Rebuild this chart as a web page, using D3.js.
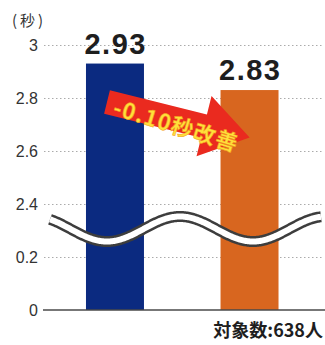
<!DOCTYPE html>
<html>
<head>
<meta charset="utf-8">
<script src="https://cdn.jsdelivr.net/npm/d3@7/dist/d3.min.js"></script>
<style>
  html, body { margin: 0; padding: 0; background: #fff; }
  svg { display: block; }
</style>
</head>
<body>
<svg id="chart" width="325" height="345"></svg>
<script>
// Reaction time before / after, seconds
const categories = ["改善前", "改善後"];
const values = [2.93, 2.83];
const barColors = ["#0b2a80", "#d8661f"];
const valueLabels = ["2.93", "2.83"];

// Broken y axis: 0–0.2 below the break, 2.4–3 above it
const yBreakDomain = [0, 0.2, 2.4, 3];
const tickValues = [0, 0.2, 2.4, 2.6, 2.8, 3];
const tickLabels = ["0", "0.2", "2.4", "2.6", "2.8", "3"];

const unitLabel = "(秒)";
const changeLabel = "-0.10秒改善";
const sampleLabel = "対象数:638人";

const svg = d3.select("#chart");
const latin = "'Liberation Sans', Arial, Helvetica, sans-serif";
const cjk = "'Noto Sans CJK JP', 'Liberation Sans', sans-serif";

const xLeft = 44, xRight = 320.5;
const x = d3.scaleBand()
  .domain(categories)
  .range([xLeft, xRight])
  .paddingInner(0.569)
  .paddingOuter(0.312);

const y = d3.scaleLinear()
  .domain(yBreakDomain)
  .range([310, 257, 204, 45]);

// dotted gridlines
const grid = svg.append("g")
  .attr("transform", `translate(${xLeft},0)`)
  .call(d3.axisLeft(y).tickValues(tickValues.filter(v => v !== 0))
    .tickSize(-(xRight + 2 - xLeft)).tickFormat(""));
grid.select(".domain").remove();
grid.selectAll(".tick line")
  .attr("stroke", "#ababab")
  .attr("stroke-width", 1)
  .attr("stroke-dasharray", "1.5,2.5");

// tick labels
const axis = svg.append("g")
  .attr("transform", `translate(${xLeft},0)`)
  .call(d3.axisLeft(y).tickValues(tickValues).tickSize(0).tickPadding(6)
    .tickFormat((d, i) => tickLabels[i]));
axis.select(".domain").remove();
axis.selectAll(".tick text")
  .attr("font-family", latin)
  .attr("font-size", 16)
  .attr("fill", "#333")
  .attr("dy", "0.36em");

// bars
svg.append("g").selectAll("rect")
  .data(values)
  .join("rect")
  .attr("x", (d, i) => x(categories[i]))
  .attr("width", x.bandwidth())
  .attr("y", d => y(d))
  .attr("height", d => y(0) - y(d))
  .attr("fill", (d, i) => barColors[i]);

// baseline
svg.append("line")
  .attr("x1", xLeft - 1).attr("x2", 325)
  .attr("y1", y(0)).attr("y2", y(0))
  .attr("stroke", "#4a4a4a")
  .attr("stroke-width", 1.5);

// axis break: white wave band with dark edges
const waveMid = (y(0.2) + y(2.4)) / 2 - 1.5;
const waveX0 = 50, waveX1 = 321;
const wavePts = d3.range(waveX0, waveX1 + 1, 1)
  .map(px => [px, waveMid + 12.5 * Math.cos(2 * Math.PI * (px - 107) / 146)]);
const waveLine = d3.line();
svg.append("path")
  .attr("d", waveLine(wavePts))
  .attr("fill", "none")
  .attr("stroke", "#3d3d3d")
  .attr("stroke-width", 11);
svg.append("path")
  .attr("d", waveLine(wavePts))
  .attr("fill", "none")
  .attr("stroke", "#fff")
  .attr("stroke-width", 6);

// value labels
svg.append("g").selectAll("text")
  .data(values)
  .join("text")
  .attr("x", (d, i) => x(categories[i]) + x.bandwidth() / 2 + 0.75)
  .attr("y", d => y(d) - 10)
  .attr("text-anchor", "middle")
  .attr("font-family", latin)
  .attr("font-weight", "bold")
  .attr("font-size", 29)
  .attr("letter-spacing", 1.5)
  .attr("fill", "#1e1e1e")
  .text((d, i) => valueLabels[i]);

// change arrow
const arrow = svg.append("g")
  .attr("transform", "translate(107,102) rotate(14)");
arrow.append("path")
  .attr("d", "M0,-12 L100,-12 L100,-31 L147,0 L100,31 L100,12 L0,12 Z")
  .attr("fill", "#ea2a1f");

svg.append("text")
  .attr("transform", "translate(176,126) rotate(17)")
  .attr("text-anchor", "middle")
  .attr("dy", "0.35em")
  .attr("font-family", cjk)
  .attr("font-weight", "bold")
  .attr("font-size", 22)
  .attr("letter-spacing", 1.2)
  .attr("fill", "#ffe03a")
  .attr("stroke", "#f39a1e")
  .attr("stroke-width", 0.5)
  .text(changeLabel);

// unit label
svg.append("text")
  .attr("x", 12).attr("y", 26)
  .attr("font-family", cjk)
  .attr("font-size", 15)
  .attr("letter-spacing", 3)
  .attr("fill", "#333")
  .text(unitLabel);

// sample size
svg.append("text")
  .attr("x", 323).attr("y", 337)
  .attr("text-anchor", "end")
  .attr("font-family", cjk)
  .attr("font-weight", "bold")
  .attr("font-size", 18)
  .attr("fill", "#1e1e1e")
  .text(sampleLabel);
</script>
</body>
</html>
